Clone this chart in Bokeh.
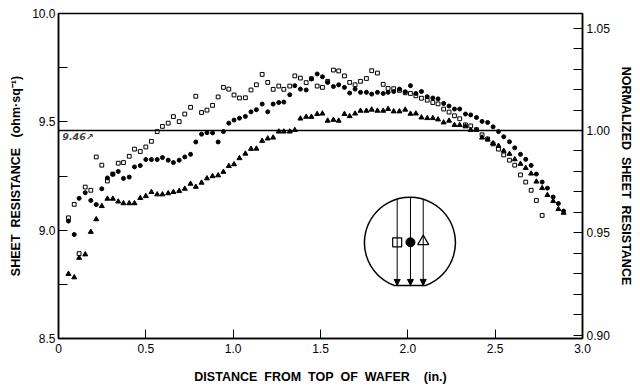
import math
from bokeh.plotting import figure
from bokeh.models import (Range1d, LinearAxis, FixedTicker, Span, Label, Arrow,
                          NormalHead, PrintfTickFormatter)
from bokeh.embed import file_html
from bokeh.resources import INLINE

# ---------------- data ----------------
X = [0.057, 0.090, 0.118, 0.153, 0.185, 0.216, 0.248, 0.280, 0.311, 0.342,
     0.372, 0.405, 0.435, 0.468, 0.500, 0.532, 0.565, 0.595, 0.628, 0.658,
     0.691, 0.723, 0.756, 0.786, 0.819, 0.850, 0.882, 0.914, 0.944, 0.975,
     1.005, 1.036, 1.070, 1.102, 1.133, 1.166, 1.198, 1.229, 1.261, 1.290,
     1.324, 1.353, 1.385, 1.418, 1.448, 1.481, 1.511, 1.541, 1.574, 1.604,
     1.637, 1.667, 1.698, 1.729, 1.763, 1.793, 1.826, 1.859, 1.887, 1.919,
     1.952, 1.985, 2.015, 2.046, 2.078, 2.111, 2.143, 2.173, 2.205, 2.236,
     2.267, 2.297, 2.330, 2.360, 2.393, 2.425, 2.457, 2.488, 2.519, 2.549,
     2.582, 2.612, 2.645, 2.675, 2.706, 2.736, 2.769, 2.799, 2.832, 2.862,
     2.892]

squares = [9.057, 9.119, 8.892, 9.199, 9.184, 9.338, 9.300, 9.227, 9.259, 9.309,
           9.312, 9.341, 9.374, 9.363, 9.384, 9.410, 9.455, 9.479, 9.494, 9.524,
           9.501, 9.536, 9.567, 9.618, 9.543, 9.554, 9.576, 9.615, 9.659, 9.651,
           9.624, 9.610, 9.611, 9.647, 9.671, 9.719, 9.682, 9.650, 9.665, 9.650,
           9.665, 9.712, 9.702, 9.681, 9.699, 9.665, 9.659, 9.687, 9.739, 9.735,
           9.712, 9.682, 9.671, 9.687, 9.700, 9.736, 9.725, 9.673, 9.654, 9.653,
           9.645, 9.634, 9.631, 9.620, 9.609, 9.600, 9.589, 9.583, 9.559, 9.545,
           9.528, 9.514, 9.486, 9.481, 9.464, 9.440, 9.421, 9.398, 9.374, 9.347,
           9.323, 9.300, 9.255, 9.222, 9.184, 9.137, 9.068]

circles = [9.042, 8.980, 9.147, 9.173, 9.137, 9.118, 9.191, 9.241, 9.258, 9.271,
           9.239, 9.245, 9.292, 9.298, 9.326, 9.326, 9.326, 9.335, 9.323, 9.312,
           9.323, 9.338, 9.350, 9.407, 9.443, 9.450, 9.449, 9.407, 9.455, 9.494,
           9.508, 9.517, 9.525, 9.546, 9.556, 9.582, 9.546, 9.582, 9.589, 9.591,
           9.625, 9.667, 9.651, 9.647, 9.698, 9.721, 9.708, 9.682, 9.663, 9.671,
           9.659, 9.633, 9.651, 9.636, 9.636, 9.628, 9.636, 9.631, 9.636, 9.640,
           9.651, 9.639, 9.667, 9.631, 9.640, 9.616, 9.610, 9.606, 9.585, 9.573,
           9.559, 9.559, 9.536, 9.532, 9.520, 9.502, 9.497, 9.477, 9.455, 9.431,
           9.408, 9.380, 9.350, 9.327, 9.299, 9.259, 9.222, 9.194, 9.153, 9.123,
           9.088]

triangles = [8.798, 8.782, 8.872, 8.888, 8.992, 9.050, 9.111, 9.145, 9.145, 9.132,
             9.124, 9.124, 9.124, 9.148, 9.157, 9.176, 9.165, 9.165, 9.170, 9.176,
             9.181, 9.191, 9.214, 9.200, 9.219, 9.239, 9.249, 9.253, 9.269, 9.296,
             9.304, 9.332, 9.353, 9.375, 9.376, 9.412, 9.423, 9.427, 9.455, 9.455,
             9.455, 9.462, 9.515, 9.523, 9.523, 9.536, 9.538, 9.505, 9.509, 9.505,
             9.536, 9.526, 9.538, 9.551, 9.551, 9.556, 9.551, 9.551, 9.559, 9.548,
             9.548, 9.556, 9.537, 9.538, 9.520, 9.517, 9.517, 9.511, 9.497, 9.505,
             9.485, 9.485, 9.479, 9.462, 9.462, 9.427, 9.418, 9.400, 9.389, 9.366,
             9.352, 9.327, 9.306, 9.287, 9.261, 9.224, 9.194, 9.162, 9.134, 9.097,
             9.080]

REF_VALUE = 9.46
x_ticks = [0.0, 0.5, 1.0, 1.5, 2.0, 2.5, 3.0]
x_tick_labels = ["0", "0.5", "1.0", "1.5", "2.0", "2.5", "3.0"]
y_ticks = [8.5, 9.0, 9.5, 10.0]
y_minor = [8.75, 9.25, 9.75]
norm_ticks = [0.90, 0.95, 1.00, 1.05]
norm_minor = [0.91, 0.92, 0.93, 0.94, 0.96, 0.97, 0.98, 0.99, 1.01, 1.02, 1.03, 1.04]

# inset (wafer sketch) geometry, in data units
WAFER_CX, WAFER_CY = 2.012, 8.942
WAFER_R_PX = 45.5
FLAT_Y, FLAT_X0, FLAT_X1 = 8.745, 1.919, 2.105
PROBE_X = [1.939, 2.015, 2.088]
PROBE_TOP = [9.144, 9.153, 9.144]
PROBE_MARK_Y = 8.944

FONT = "Liberation Sans"
SP = "\u00a0"

p = figure(width=640, height=391, output_backend="svg", toolbar_location=None,
           x_range=Range1d(0, 3.0), y_range=Range1d(8.5, 10.0),
           min_border_left=58, min_border_right=58, min_border_top=13, min_border_bottom=53)
p.xgrid.visible = False
p.ygrid.visible = False
p.outline_line_color = "black"
p.outline_line_width = 1.5
p.outline_line_alpha = 1.0

def style_axis(ax, standoff, label_standoff):
    ax.axis_line_color = "black"
    ax.axis_line_width = 1.5
    ax.major_tick_in = 9
    ax.major_tick_out = 0
    ax.minor_tick_in = 9
    ax.minor_tick_out = 0
    ax.major_tick_line_width = 1
    ax.minor_tick_line_width = 1
    ax.major_label_text_font = FONT
    ax.major_label_text_font_size = "12px"
    ax.major_label_text_color = "black"
    ax.major_label_standoff = standoff
    ax.axis_label_text_font = FONT
    ax.axis_label_text_font_size = "12.5px"
    ax.axis_label_text_font_style = "bold"
    ax.axis_label_text_color = "black"
    ax.axis_label_standoff = label_standoff

xa = p.xaxis[0]
xa.ticker = FixedTicker(ticks=x_ticks, minor_ticks=[])
xa.major_label_overrides = {t: l for t, l in zip(x_ticks, x_tick_labels)}
xa.axis_label = SP.join(["DISTANCE", "", "FROM", "", "TOP", "", "OF", "", "WAFER",
                         "", "", "", "(in.)"])
style_axis(xa, 5, 14)

ya = p.yaxis[0]
ya.ticker = FixedTicker(ticks=y_ticks, minor_ticks=y_minor)
ya.formatter = PrintfTickFormatter(format="%.1f")
ya.axis_label = SP.join(["SHEET", "", "RESISTANCE", "", "", "(ohm·sq⁻¹)"])
style_axis(ya, 3, 6)

p.extra_y_ranges = {"norm": Range1d(8.5 / REF_VALUE, 10.0 / REF_VALUE)}
ra = LinearAxis(y_range_name="norm",
                ticker=FixedTicker(ticks=norm_ticks, minor_ticks=norm_minor),
                formatter=PrintfTickFormatter(format="%.2f"),
                axis_label=SP.join(["NORMALIZED", "", "SHEET", "", "RESISTANCE"]))
style_axis(ra, 4, 6)
p.add_layout(ra, "right")

# reference line
p.add_layout(Span(location=REF_VALUE, dimension="width", line_color="black", line_width=1.5))
p.add_layout(Label(x=0.022, y=9.431, text="9.46\u2197", text_font="DejaVu Sans",
                   text_font_size="9.5px", text_font_style="bold italic",
                   text_baseline="middle"))

# data
p.scatter(X[:len(squares)], squares, marker="square", size=3.8, fill_color="white",
          line_color="black", line_width=1)
p.scatter(X[:len(circles)], circles, marker="circle", size=4, fill_color="black",
          line_color="black")
p.scatter(X[:len(triangles)], triangles, marker="triangle", size=5, fill_color="black",
          line_color="black")

# inset wafer sketch
ang = math.asin((FLAT_Y - WAFER_CY) * 216.0 / WAFER_R_PX)
p.arc(x=[WAFER_CX], y=[WAFER_CY], radius=WAFER_R_PX, radius_units="screen",
      start_angle=ang, end_angle=math.pi - ang, line_color="black", line_width=1.5)
p.segment(x0=[FLAT_X0], y0=[FLAT_Y], x1=[FLAT_X1], y1=[FLAT_Y], line_color="black",
          line_width=1.5)
for px_, pt in zip(PROBE_X, PROBE_TOP):
    p.add_layout(Arrow(end=NormalHead(size=6, fill_color="black", line_color="black"),
                       x_start=px_, y_start=pt, x_end=px_, y_end=FLAT_Y,
                       line_color="black", line_width=1))
p.scatter([PROBE_X[0]], [PROBE_MARK_Y], marker="square", size=9, fill_color="white",
          line_color="black", line_width=1.2)
p.scatter([PROBE_X[1]], [PROBE_MARK_Y], marker="circle", size=9, fill_color="black",
          line_color="black")
p.scatter([PROBE_X[2]], [PROBE_MARK_Y + 0.004], marker="triangle", size=11,
          fill_color="white", line_color="black", line_width=1.2)

open("out.html", "w").write(file_html(p, INLINE))
